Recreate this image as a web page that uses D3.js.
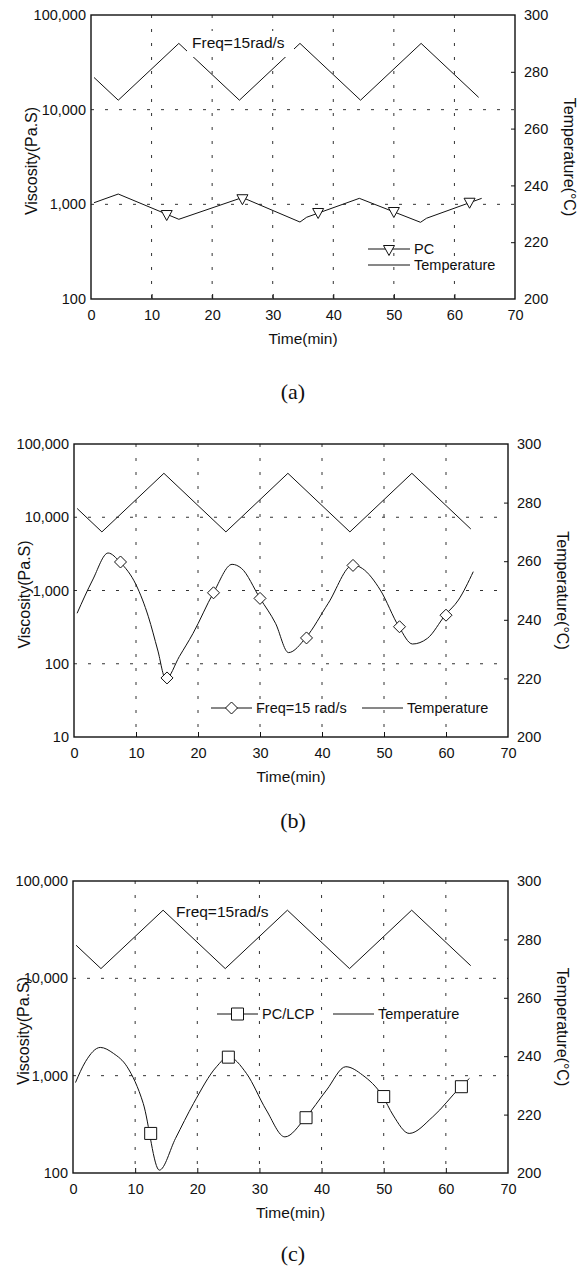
<!DOCTYPE html>
<html>
<head>
<meta charset="utf-8">
<script src="https://cdn.jsdelivr.net/npm/d3@7"></script>
<style>
  html, body { margin: 0; padding: 0; background: #fff; }
  svg { display: block; }
  text { fill: #111; }
</style>
</head>
<body>
<svg id="fig" width="579" height="1274"></svg>
<script>
// ---- shared axes ----
const timeTicks = [0, 10, 20, 30, 40, 50, 60, 70];
const tempTicks = [200, 220, 240, 260, 280, 300];

// Temperature programme (same in every run), °C vs min
const tempTime  = [0.5, 4.5, 14.5, 24.5, 34.5, 44.5, 54.5, 64];
const tempValue = [278, 270, 290, 270, 290, 270, 290, 271];

// ---- (a) PC ----
const viscTicksA = [100, 1000, 10000, 100000];
const pcTime = [0.5, 4.5, 14.5, 25, 34.5, 35.6, 44.3, 54.4, 55.4, 64.5];
const pcVisc = [1040, 1285, 695, 1180, 650, 730, 1157, 646, 713, 1157];
const pcMarkTime = [12.5, 25, 37.5, 50, 62.5];
const pcMarkVisc = [790, 1160, 830, 850, 1065];

// ---- (b) Freq = 15 rad/s ----
const viscTicksB = [10, 100, 1000, 10000, 100000];
const freqTime = [0.5, 3, 5.5, 7.4, 10, 12, 13.5, 14.8, 17, 19.2, 22.5, 25.5, 27, 30,
                  32.5, 34.6, 37.4, 41, 45, 46.5, 49.4, 52.4, 54.6, 57, 59.9, 62, 64.4];
const freqVisc = [489, 1390, 3250, 2450, 1200, 438, 154, 62, 126, 260, 933, 2276, 2010, 782,
                  357, 142, 227, 668, 2228, 2000, 1016, 321, 186, 222, 464, 741, 1808];
const freqMarkTime = [7.5, 15, 22.5, 30, 37.5, 45, 52.5, 60];
const freqMarkVisc = [2450, 64, 930, 780, 225, 2200, 320, 460];

// ---- (c) PC/LCP ----
const viscTicksC = [100, 1000, 10000, 100000];
const lcpTime = [0.4, 2, 4.4, 6.5, 8.7, 11.3, 13.9, 16.5, 19.4, 23.1, 25, 27.9, 31.1, 34.1,
                 37.4, 40.8, 43.9, 46.6, 49.8, 51.5, 54.1, 57.9, 62.4, 63.8];
const lcpVisc = [850, 1390, 1950, 1695, 1236, 519, 107, 227, 519, 1236, 1563, 1057, 444, 235,
                 369, 711, 1236, 1014, 620, 394, 255, 378, 770, 938];
const lcpMarkTime = [12.5, 25, 37.5, 50, 62.5];
const lcpMarkVisc = [255, 1550, 370, 610, 770];

const SANS = "'Liberation Sans', Arial, Helvetica, sans-serif";
const SERIF = "'Liberation Serif', 'Times New Roman', serif";
const svg = d3.select("#fig");
svg.append("rect").attr("width", 579).attr("height", 1274).attr("fill", "#fff");

const fmt = d3.format(",");

function markerPath(kind) {
  if (kind === "tri") return "M-5.5,-3.5L5.5,-3.5L0,6.5Z";
  if (kind === "dia") return "M0,-6L6,0L0,6L-6,0Z";
  return "M-6,-6L6,-6L6,6L-6,6Z";
}

function panel(cfg) {
  const g = svg.append("g");
  const x = d3.scaleLinear().domain([0, 70]).range([cfg.left, cfg.right]);
  const y = d3.scaleLog().domain([cfg.viscTicks[0], cfg.viscTicks[cfg.viscTicks.length - 1]])
              .range([cfg.bottom, cfg.top]);
  const yT = d3.scaleLinear().domain([200, 300]).range([cfg.bottom, cfg.top]);

  // dotted grid
  const grid = g.append("g").attr("stroke", "#333").attr("stroke-width", 1)
                .attr("stroke-dasharray", "3,11");
  grid.selectAll("line.v").data(timeTicks.slice(1, -1)).join("line")
      .attr("x1", d => x(d)).attr("x2", d => x(d))
      .attr("y1", cfg.top).attr("y2", cfg.bottom);
  grid.selectAll("line.h").data(cfg.viscTicks.slice(1, -1)).join("line")
      .attr("x1", cfg.left).attr("x2", cfg.right)
      .attr("y1", d => y(d)).attr("y2", d => y(d));

  // axes through d3-axis, frame drawn as box
  const bottomAxis = d3.axisBottom(x).tickValues(timeTicks).tickSize(-5).tickPadding(11);
  const gb = g.append("g").attr("transform", `translate(0,${cfg.bottom})`).call(bottomAxis);
  const leftAxis = d3.axisLeft(y).tickValues(cfg.viscTicks).tickFormat(fmt).tickSize(0).tickPadding(5);
  const gl = g.append("g").attr("transform", `translate(${cfg.left},0)`).call(leftAxis);
  const rightAxis = d3.axisRight(yT).tickValues(tempTicks).tickSize(-4).tickPadding(9);
  const gr = g.append("g").attr("transform", `translate(${cfg.right},0)`).call(rightAxis);
  [gb, gl, gr].forEach(a => {
    a.select(".domain").remove();
    a.selectAll("text").attr("font-family", SANS).attr("font-size", 14.5).attr("fill", "#111");
    a.selectAll("line").attr("stroke", "#111").attr("stroke-width", 1);
  });
  gb.selectAll(".tick").filter(d => d === 0 || d === 70).select("line").remove();
  gr.selectAll(".tick").filter(d => d === 200 || d === 300).select("line").remove();

  g.append("rect").attr("x", cfg.left).attr("y", cfg.top)
   .attr("width", cfg.right - cfg.left).attr("height", cfg.bottom - cfg.top)
   .attr("fill", "none").attr("stroke", "#111").attr("stroke-width", 1.4);

  // temperature programme
  const tLine = d3.line().x(d => x(d[0])).y(d => yT(d[1]));
  g.append("path").datum(tempTime.map((t, i) => [t, tempValue[i]]))
   .attr("d", tLine).attr("fill", "none").attr("stroke", "#111").attr("stroke-width", 1);

  // viscosity curve
  const vLine = d3.line().x(d => x(d[0])).y(d => y(d[1]))
                  .curve(cfg.smooth ? d3.curveMonotoneX : d3.curveLinear);
  g.append("path").datum(cfg.vTime.map((t, i) => [t, cfg.vVisc[i]]))
   .attr("d", vLine).attr("fill", "none").attr("stroke", "#111").attr("stroke-width", 1);

  g.selectAll("path.mk").data(cfg.mTime.map((t, i) => [t, cfg.mVisc[i]])).join("path")
   .attr("class", "mk")
   .attr("transform", d => `translate(${x(d[0])},${y(d[1])})`)
   .attr("d", markerPath(cfg.marker))
   .attr("fill", "#fff").attr("stroke", "#111").attr("stroke-width", 1);

  // frequency note
  if (cfg.note) {
    if (cfg.note.box) {
      g.append("rect").attr("x", cfg.note.box[0]).attr("y", cfg.note.box[1])
       .attr("width", cfg.note.box[2]).attr("height", cfg.note.box[3]).attr("fill", "#fff");
    }
    g.append("text").attr("x", cfg.note.x).attr("y", cfg.note.y)
     .attr("font-family", SANS).attr("font-size", 15.5).text("Freq=15rad/s");
  }

  // legend
  const L = cfg.legend;
  const lg = g.append("g").attr("font-family", SANS).attr("font-size", 14.5);
  lg.append("line").attr("x1", L.sx).attr("x2", L.sx + L.len).attr("y1", L.sy).attr("y2", L.sy)
    .attr("stroke", "#111");
  lg.append("path").attr("transform", `translate(${L.sx + L.len / 2},${L.sy})`)
    .attr("d", markerPath(cfg.marker)).attr("fill", "#fff").attr("stroke", "#111");
  lg.append("text").attr("x", L.sx + L.len + 4).attr("y", L.sy + 5).text(L.series);
  lg.append("line").attr("x1", L.tx).attr("x2", L.tx + L.len).attr("y1", L.ty).attr("y2", L.ty)
    .attr("stroke", "#111");
  lg.append("text").attr("x", L.tx + L.len + 4).attr("y", L.ty + 5).text("Temperature");

  // axis titles
  const midY = (cfg.top + cfg.bottom) / 2;
  g.append("text").attr("transform", `translate(${cfg.titleX},${midY + 4}) rotate(-90)`)
   .attr("text-anchor", "middle").attr("font-family", SANS).attr("font-size", 16)
   .text("Viscosity(Pa.S)");
  g.append("text").attr("transform", `translate(${cfg.right + 49},${midY}) rotate(90)`)
   .attr("text-anchor", "middle").attr("font-family", SANS).attr("font-size", 16)
   .text("Temperature(°C)");
  g.append("text").attr("x", (cfg.left + cfg.right) / 2).attr("y", cfg.bottom + 45)
   .attr("text-anchor", "middle").attr("font-family", SANS).attr("font-size", 15.5)
   .text("Time(min)");
  g.append("text").attr("x", 293).attr("y", cfg.capY)
   .attr("text-anchor", "middle").attr("font-family", SERIF).attr("font-size", 22)
   .text(cfg.caption);
}

panel({
  left: 91, right: 515, top: 15, bottom: 299, viscTicks: viscTicksA, titleX: 37,
  vTime: pcTime, vVisc: pcVisc, mTime: pcMarkTime, mVisc: pcMarkVisc,
  marker: "tri", smooth: false,
  note: { x: 192, y: 48, box: [187, 31, 107, 26] },
  legend: { sx: 368, sy: 249, tx: 368, ty: 265, len: 42, series: "PC" },
  caption: "(a)", capY: 399
});

panel({
  left: 74, right: 508, top: 444, bottom: 737, viscTicks: viscTicksB, titleX: 30,
  vTime: freqTime, vVisc: freqVisc, mTime: freqMarkTime, mVisc: freqMarkVisc,
  marker: "dia", smooth: true,
  legend: { sx: 211, sy: 708, tx: 362, ty: 708, len: 41, series: "Freq=15 rad/s" },
  caption: "(b)", capY: 828
});

panel({
  left: 73, right: 508, top: 881, bottom: 1173, viscTicks: viscTicksC, titleX: 29,
  vTime: lcpTime, vVisc: lcpVisc, mTime: lcpMarkTime, mVisc: lcpMarkVisc,
  marker: "sq", smooth: true,
  note: { x: 176, y: 917 },
  legend: { sx: 217, sy: 1014, tx: 333, ty: 1014, len: 41, series: "PC/LCP" },
  caption: "(c)", capY: 1261
});
</script>
</body>
</html>
